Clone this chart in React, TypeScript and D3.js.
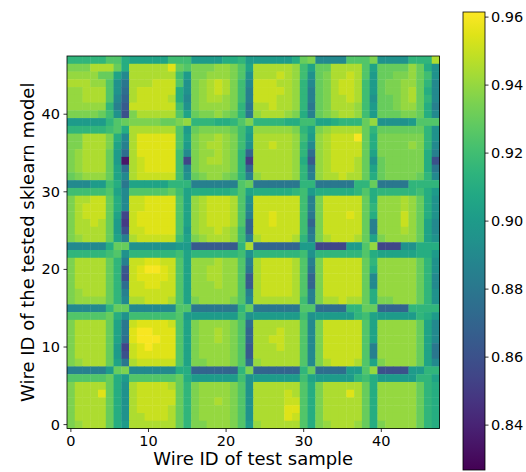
import React from 'react';
import * as d3 from 'd3';

// accuracy matrix. each char is a level:
// 'a' = 0.830, every next letter +0.005, 'Z' = 0.960
// first string = wire 47 of the model (top row), last = wire 0
const LEVELS = 'abcdefghijklmnopqrstuvwxyzZ';
const BASE = 0.83;
const STEP = 0.005;

const rows = [
  'rrrrrttq pppppsss ooooqqro oooooquv mmmmtttv nnnnrrrx',
  'vvvxxxuq xxxxxzut vvvwwvtp xxxxxwsp uuxxxxtp uuuuwuqn',
  'wwwwuupm xxxxxxso vvwwwvtn xxxyxwsn uvxxyxto uuvvwusn',
  'xxxwwtnk xxxyyytn vwxyxvsm yyyxxwrm uvxyyxso uvvwwurm',
  'wwxxxtnj xyyyyyqn vwxyxvsl yyyyxwrl uvxyyxso uvvwxuqm',
  'wwxxxtmi xyyyyxqm vwxxwvsl yyyxxwrl uvxxyxsn uuvwxurm',
  'wwwwwrlh yyyyyysn vwwwwvrk xxyxxwrk uvxxxwso uuvwwuql',
  'vvvvusng vxxxxxtp uvvwvurk wxxxwvql uvwxxwso uuuvvuqm',
  'ooooortu vvvvuuvw rrrqqrtv rrrrqqss ppqrrruw nnnnottt',
  'rrrrrstq xxxxxxto uvvvvusp wwwwwvrp vwxxxxur uuuuuurn',
  'vvxxxvqm xzzzzztp vwwxwvso xxxxxwso wxyyyZuq vvvvvvrn',
  'vvxxxvpl xzzzzzto vwxxwvsn xxyxxwrm wxyyyyuq vvvvwvrm',
  'vwxxxuoj xzzzzzsm vwwxwvri xxxxxwrj wxyyyyup vvvvvvql',
  'vwxxxuob xyzzzzsf vwxxwvre xxxxxwqh wxyyyxun uvvvvvqg',
  'vwxxxupj xyzzzzsm vwwwwvri xxxxxwrk wxyyyxup uvvvvvqk',
  'uvwwwupm xyyyyysn uvwwvurl wxxxxwrl wxxyxxuq uvvvvurm',
  'mmmoosqk ppppprrr lllllltu kkkkkkrr kkkkkrru kkkkrrrr',
  'ssssstpm tttttusp qqqqqrtp qqqqqrso qqqqqrtq rrrrrsqo',
  'vxxyyuqm yyzzzztp wxyyyxtn yyyyyysl vyyyyyuq wwwxwuqn',
  'vxyyyuqm yyzzzztp wxyyyxtm yyyyyysl vyyyyyur wwwxwuqn',
  'vxyyyupf yzzzzztp wxyyyxtl yyzyyysk vyyyzyuq wwwywuqn',
  'vxxyxuoe yzzzzztp wxyyyxti yyzyyysi vyyyyyul wwwywupm',
  'vxxxxuog yyzzzzto wxxyxwsi yyyyyysk vyyyyyul wwwxwupm',
  'vwxxxupl xyyyyysp vwxxxwsl xyyyyxrl vxyyyxup vwwwwupn',
  'mmmmmquu nnnnnnoo hhhhhhrx iiiiiioo ffffootw fffnnqqq',
  'rrrrrstn rrrrrrsp rrrrrrsn rrrrrrsn rrrrrrtq pppppqqo',
  'vxxxxurl yyzzyytp wwwxwwtl xyyyyxtl vyyyyyur wwwwwurn',
  'vxxxxurh yzZZzytp wwxxwwtk xyyyyxtk vyyyyyuq wwwwwurn',
  'vxxxxurg yzzzzytp wwxxwwth xyyyyxti vyyyyyum wwwwwurm',
  'vxxxxurj yyzzyytp wwwxwwth xyyyyxti vyyyyyum wwwwwurm',
  'vwxxxurl yyyyyytp wwwwwwtl xyyyyxtl vyyyyyuq wwwwwurn',
  'vwwwwurm xxyyyxtp vwwwwvtm xxxxxxsl vxxyxxuq vvwwwurn',
  'mmmmmruu mmmmmmtt kkkkkkru kkkkkktt jjjjrruu iiiirrrr',
  'tttttuqn ssssssto oooooosn oooooosn ooooorsp ooooorqo',
  'vxxxxupk yzzzzytp vwwwwvtj xxxxxxtm vyyyyytp wwwwwupm',
  'vxxxxupk zZZzzztp vwwxwvti xxxyxxtm vyyyyytp wwwwwupm',
  'vxxxxupj zZZZzztp vwwxwvti xxyyxxtm vyyyyytp wwwwwupm',
  'vxxxxuof yzZzzztp vwwwwvth xxxyxxtm vyyyyytl wwwwwupk',
  'vxxxxuog yzzzzztp vwwwwvth xxxxxxtm vyyyyytl wwwwwupk',
  'vwxxxupk xyyyyytp vvwwwvtj wxxxxxtm vxyyyxtp vwwwwupm',
  'lllllouv mmmmmmqq iiiiiirv iiiiiiru jjjjootw ggggoorr',
  'tttttuqo ttttttuq oooooosn oooooosp ooooorsq ooooorrp',
  'vxxxxuqn xyyyyxur vwwwwvtn xxxxxxtq vxxxxxuq wwwwwurq',
  'vxxxzuqn xyyyyyur vwwwwvtn xxxxyxtq vxxxzxuq wwwwwurq',
  'vxxxxuqn xyyyyyur vwwxwvtn xxxxyytq vxxxxxuq wwwwwurq',
  'vxxxxuqn xyyyyxur vwwwwvtn xxxxzztq vxxxxxuq wwwwwurq',
  'vxxxxuqn xxyyyxur vwwwwvtn xxxxzytq vxxxxxuq wwwwwurq',
  'vwxxxuqo xxxxxxur vvwwwvto wxxxxxtq vwxxxwuq vwwwwurq',
];

const xTicks = [0, 10, 20, 30, 40];
const yTicks = [0, 10, 20, 30, 40];
const cbarTicks = [0.84, 0.86, 0.88, 0.9, 0.92, 0.94, 0.96];
const vMin = 0.8268;
const vMax = 0.9615;

const font = 'DejaVu Sans, sans-serif';

export default function App() {
  const n = rows.length;
  const left = 67;
  const top = 56;
  const size = 372.5;

  const x = d3.scaleBand<number>().domain(d3.range(n)).range([left, left + size]);
  const y = d3.scaleBand<number>().domain(d3.range(n)).range([top + size, top]);
  const color = d3.scaleSequential(d3.interpolateViridis).domain([vMin, vMax]);

  const cbX = 463;
  const cbW = 22;
  const cbTop = 12;
  const cbBottom = 470;
  const cy = d3.scaleLinear().domain([vMin, vMax]).range([cbBottom, cbTop]);

  const cells: { i: number; j: number; v: number }[] = [];
  rows.forEach((r, k) => {
    const j = n - 1 - k;
    Array.from(r.replace(/ /g, '')).forEach((ch, i) => {
      cells.push({ i, j, v: BASE + LEVELS.indexOf(ch) * STEP });
    });
  });

  const bw = x.bandwidth();
  const stops = d3.range(0, 1.0001, 0.05);

  return (
    <svg width={526} height={472} style={{ position: 'absolute', left: 0, top: 0, background: '#fff' }}>
      <defs>
        <linearGradient id="cb" x1="0" y1="1" x2="0" y2="0">
          {stops.map(t => (
            <stop key={t} offset={t} stopColor={d3.interpolateViridis(t)} />
          ))}
        </linearGradient>
      </defs>

      {cells.map(c => (
        <rect key={c.i + '-' + c.j} x={x(c.i)} y={y(c.j)} width={bw + 0.4} height={bw + 0.4} fill={color(c.v)} />
      ))}
      <rect x={left} y={top} width={size} height={size} fill="none" stroke="#000" strokeWidth={0.8} />

      {xTicks.map(t => {
        const px = (x(t) as number) + bw / 2;
        return (
          <g key={'x' + t}>
            <line x1={px} x2={px} y1={top + size} y2={top + size + 3.5} stroke="#000" strokeWidth={0.8} />
            <text x={px} y={top + size + 17.5} textAnchor="middle" fontSize={14.5} fontFamily={font}>{t}</text>
          </g>
        );
      })}
      {yTicks.map(t => {
        const py = (y(t) as number) + bw / 2;
        return (
          <g key={'y' + t}>
            <line x1={left - 3.5} x2={left} y1={py} y2={py} stroke="#000" strokeWidth={0.8} />
            <text x={left - 7} y={py + 5} textAnchor="end" fontSize={14.5} fontFamily={font}>{t}</text>
          </g>
        );
      })}

      <text x={left + size / 2} y={465} textAnchor="middle" fontSize={18} fontFamily={font}>Wire ID of test sample</text>
      <text transform={`translate(34,${top + size / 2}) rotate(-90)`} textAnchor="middle" fontSize={18} fontFamily={font}>
        Wire ID of the tested sklearn model
      </text>

      <rect x={cbX} y={cbTop} width={cbW} height={cbBottom - cbTop} fill="url(#cb)" stroke="#000" strokeWidth={0.8} />
      {cbarTicks.map(t => (
        <g key={'c' + t}>
          <line x1={cbX + cbW} x2={cbX + cbW + 3.5} y1={cy(t)} y2={cy(t)} stroke="#000" strokeWidth={0.8} />
          <text x={cbX + cbW + 6} y={cy(t) + 5} fontSize={14.5} fontFamily={font}>{t.toFixed(2)}</text>
        </g>
      ))}
    </svg>
  );
}
